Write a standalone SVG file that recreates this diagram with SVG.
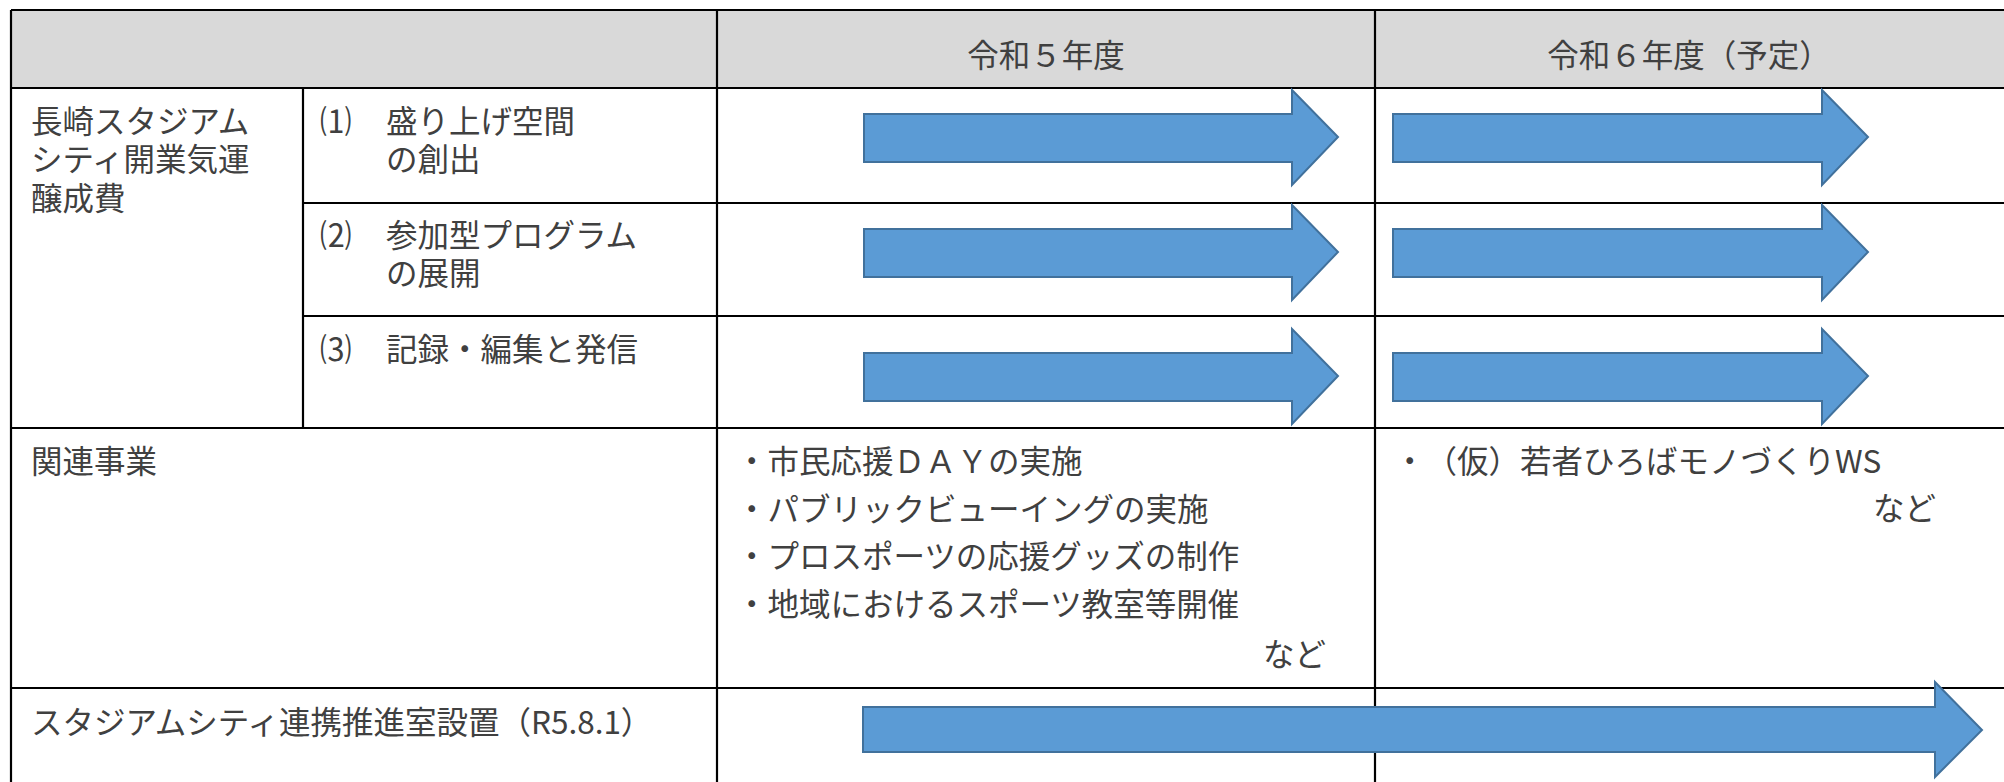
<svg xmlns="http://www.w3.org/2000/svg" width="2004" height="782" viewBox="0 0 2004 782">
<style>
.t{font-family:"Noto Sans CJK JP","Noto Sans",sans-serif;font-size:31.5px;fill:#404040;text-spacing-trim:space-all}
.m{text-anchor:middle}
.g{stroke:#000;stroke-width:2.2;fill:none}
.a{fill:#5b9bd5;stroke:#41719c;stroke-width:2;stroke-linejoin:miter}
</style>
<defs>
<path id="arw5" class="a" d="M864 114 H1292 V90 L1338 137 L1292 185 V162 H864 Z"/>
<path id="arw6" class="a" d="M1393 114 H1822 V90 L1868 137 L1822 185 V162 H1393 Z"/>
</defs>
<rect x="11" y="10" width="1993" height="78" fill="#d9d9d9"/>
<g id="grid">
<path class="g" d="M11 10 H2004 M11 88 H2004 M303 203 H2004 M303 316 H2004 M11 428 H2004 M11 688 H2004"/>
<path class="g" d="M11 10 V782 M303 88 V428 M717 10 V782 M1375 10 V782"/>
</g>
<g id="header">
<text class="t m" x="1046" y="67">令和５年度</text>
<text class="t m" x="1689" y="67">令和６年度（予定）</text>
</g>
<g id="node-main">
<text class="t"><tspan x="31" y="133">長崎スタジアム</tspan><tspan x="31" y="171">シティ開業気運</tspan><tspan x="31" y="210">醸成費</tspan></text>
</g>
<g id="node-1">
<text class="t"><tspan x="320" y="133">⑴</tspan><tspan x="386" y="133">盛り上げ空間</tspan><tspan x="386" y="171">の創出</tspan></text>
</g>
<g id="node-2">
<text class="t"><tspan x="320" y="247">⑵</tspan><tspan x="386" y="247">参加型プログラム</tspan><tspan x="386" y="285">の展開</tspan></text>
</g>
<g id="node-3">
<text class="t" y="361"><tspan x="320">⑶</tspan><tspan x="386">記録・編集と発信</tspan></text>
</g>
<g id="node-related">
<text class="t" x="31" y="473">関連事業</text>
</g>
<g id="node-related-r5">
<text class="t" x="736" y="473">・市民応援ＤＡＹの実施</text>
<text class="t" x="736" y="520.5">・パブリックビューイングの実施</text>
<text class="t" x="736" y="568">・プロスポーツの応援グッズの制作</text>
<text class="t" x="736" y="615.5">・地域におけるスポーツ教室等開催</text>
<text class="t" x="1263" y="666">など</text>
</g>
<g id="node-related-r6">
<text class="t" y="473"><tspan x="1394">・</tspan><tspan x="1425.5">（仮）若者ひろばモノづくりWS</tspan></text>
<text class="t" x="1873" y="520">など</text>
</g>
<g id="node-office">
<text class="t" x="31" y="734">スタジアムシティ連携推進室設置（R5.8.1）</text>
</g>
<g id="connectors">
<use href="#arw5"/>
<use href="#arw5" transform="translate(0 115)"/>
<use href="#arw5" transform="translate(0 239)"/>
<use href="#arw6"/>
<use href="#arw6" transform="translate(0 115)"/>
<use href="#arw6" transform="translate(0 239)"/>
<path class="a" d="M863 707 H1935 V682 L1982 730 L1935 777 V752 H863 Z"/>
</g>
</svg>
